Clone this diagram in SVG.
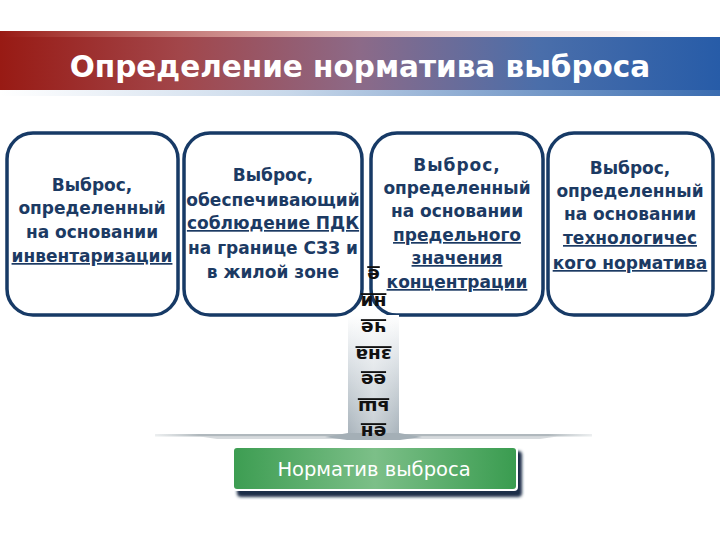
<svg xmlns="http://www.w3.org/2000/svg" width="720" height="540" viewBox="0 0 720 540">
<style>
.box{fill:#fff;stroke:#173a66;stroke-width:3.5}
.bt{font-family:"DejaVu Sans",Verdana,sans-serif;font-weight:bold;font-size:17px;fill:#1c3a63;text-anchor:middle}
.u{text-decoration:underline}
.col{font-family:"DejaVu Sans",Verdana,sans-serif;font-weight:bold;font-size:18.5px;fill:#111;text-anchor:middle;text-decoration:underline}
</style>
<defs>
<linearGradient id="title" x1="0" y1="0" x2="1" y2="0">
<stop offset="0" stop-color="#981a14"/>
<stop offset="0.25" stop-color="#a2464a"/>
<stop offset="0.5" stop-color="#8c6a88"/>
<stop offset="0.75" stop-color="#4a6eaa"/>
<stop offset="1" stop-color="#275ca8"/>
</linearGradient>
<linearGradient id="tbot" x1="0" y1="0" x2="1" y2="0">
<stop offset="0" stop-color="#ffffff"/>
<stop offset="0.4" stop-color="#c8d8ea"/>
<stop offset="1" stop-color="#3a6cb0"/>
</linearGradient>
<linearGradient id="ttop" x1="0" y1="0" x2="1" y2="0">
<stop offset="0" stop-color="#981a14" stop-opacity="1"/>
<stop offset="0.45" stop-color="#c88080" stop-opacity="0.6"/>
<stop offset="0.85" stop-color="#e8c8c8" stop-opacity="0.3"/>
<stop offset="1" stop-color="#ffffff" stop-opacity="0"/>
</linearGradient>
<linearGradient id="colg" x1="0" y1="0" x2="0" y2="1">
<stop offset="0" stop-color="#ffffff"/>
<stop offset="0.35" stop-color="#dfe4e8"/>
<stop offset="1" stop-color="#a8b3bb"/>
</linearGradient>
<linearGradient id="colh" x1="0" y1="0" x2="1" y2="0">
<stop offset="0" stop-color="#ffffff" stop-opacity="0"/>
<stop offset="0.5" stop-color="#ffffff" stop-opacity="0.35"/>
<stop offset="1" stop-color="#ffffff" stop-opacity="0"/>
</linearGradient>
<linearGradient id="lineg" x1="0" y1="0" x2="1" y2="0">
<stop offset="0" stop-color="#c0c8cc" stop-opacity="0.3"/>
<stop offset="0.1" stop-color="#b0b8bd"/>
<stop offset="0.9" stop-color="#b0b8bd"/>
<stop offset="1" stop-color="#c0c8cc" stop-opacity="0.3"/>
</linearGradient>
<linearGradient id="green" x1="0" y1="0" x2="1" y2="0">
<stop offset="0" stop-color="#3d9d52"/>
<stop offset="0.5" stop-color="#7cbf88"/>
<stop offset="1" stop-color="#3a9c50"/>
</linearGradient>
<filter id="blur" x="-10%" y="-30%" width="120%" height="160%"><feGaussianBlur stdDeviation="1.5"/></filter>
</defs>

<g id="title-bar">
<rect x="0" y="31" width="720" height="7" fill="url(#ttop)"/>
<rect x="0" y="37" width="720" height="54" fill="url(#title)"/>
<rect x="0" y="90" width="720" height="6" fill="url(#tbot)"/>
<text x="360" y="77" font-family="'DejaVu Sans',Verdana,sans-serif" font-weight="bold" font-size="29.5" fill="#fff" text-anchor="middle">Определение норматива выброса</text>
</g>

<g id="box1">
<rect class="box" x="7" y="133" width="171" height="182" rx="26"/>
<text class="bt" x="92" y="191">Выброс,</text>
<text class="bt" x="92" y="214">определенный</text>
<text class="bt" x="92" y="238">на основании</text>
<text class="bt u" x="92" y="262">инвентаризации</text>
</g>

<g id="box2">
<rect class="box" x="184" y="133" width="178" height="182" rx="26"/>
<text class="bt" x="273" y="181">Выброс,</text>
<text class="bt" x="273" y="206">обеспечивающий</text>
<text class="bt u" x="273" y="229">соблюдение ПДК</text>
<text class="bt" x="273" y="254">на границе СЗЗ и</text>
<text class="bt" x="273" y="278">в жилой зоне</text>
</g>

<g id="box3">
<rect class="box" x="371" y="133" width="172" height="182" rx="26"/>
<text class="bt" x="457" y="171" letter-spacing="1">Выброс,</text>
<text class="bt" x="457" y="194">определенный</text>
<text class="bt" x="457" y="217">на основании</text>
<text class="bt u" x="457" y="241">предельного</text>
<text class="bt u" x="457" y="264">значения</text>
<text class="bt u" x="457" y="288">концентрации</text>
</g>

<g id="box4">
<rect class="box" x="548" y="133" width="165" height="182" rx="26"/>
<text class="bt" x="630" y="174">Выброс,</text>
<text class="bt" x="630" y="197">определенный</text>
<text class="bt" x="630" y="220">на основании</text>
<text class="bt u" x="630" y="244">технологичес</text>
<text class="bt u" x="630" y="269">кого норматива</text>
</g>

<g id="connectors">
<rect x="155" y="434" width="437" height="2.5" fill="url(#lineg)"/>
<polygon points="200,436.5 557,436.5 540,439 217,439" fill="#c4cbcf" opacity="0.7"/>
<rect x="348" y="315" width="51" height="120" fill="url(#colg)"/>
<rect x="348" y="315" width="51" height="120" fill="url(#colh)"/>
<polygon points="348,433 399,433 422,437 400,440 347,440 325,437" fill="#a4afb6"/>
<g transform="rotate(180 373.5 353)">
<text class="col" x="373.5" y="280">ен</text>
<text class="col" x="373.5" y="305">ьш</text>
<text class="col" x="373.5" y="332">ее</text>
<text class="col" x="373.5" y="357">зна</text>
<text class="col" x="373.5" y="384">че</text>
<text class="col" x="373.5" y="410">ни</text>
<text class="col" x="373.5" y="437">е</text>
</g>
</g>

<g id="norm">
<rect x="237" y="451" width="285" height="46" rx="4" fill="#1c2f48" filter="url(#blur)"/>
<rect x="232" y="446" width="286" height="45" rx="4" fill="#fff"/>
<rect x="234" y="448" width="282" height="41" rx="3" fill="url(#green)"/>
<text x="374" y="476" font-family="'DejaVu Sans',Verdana,sans-serif" font-size="19.5" fill="#fff" text-anchor="middle">Норматив выброса</text>
</g>
</svg>
